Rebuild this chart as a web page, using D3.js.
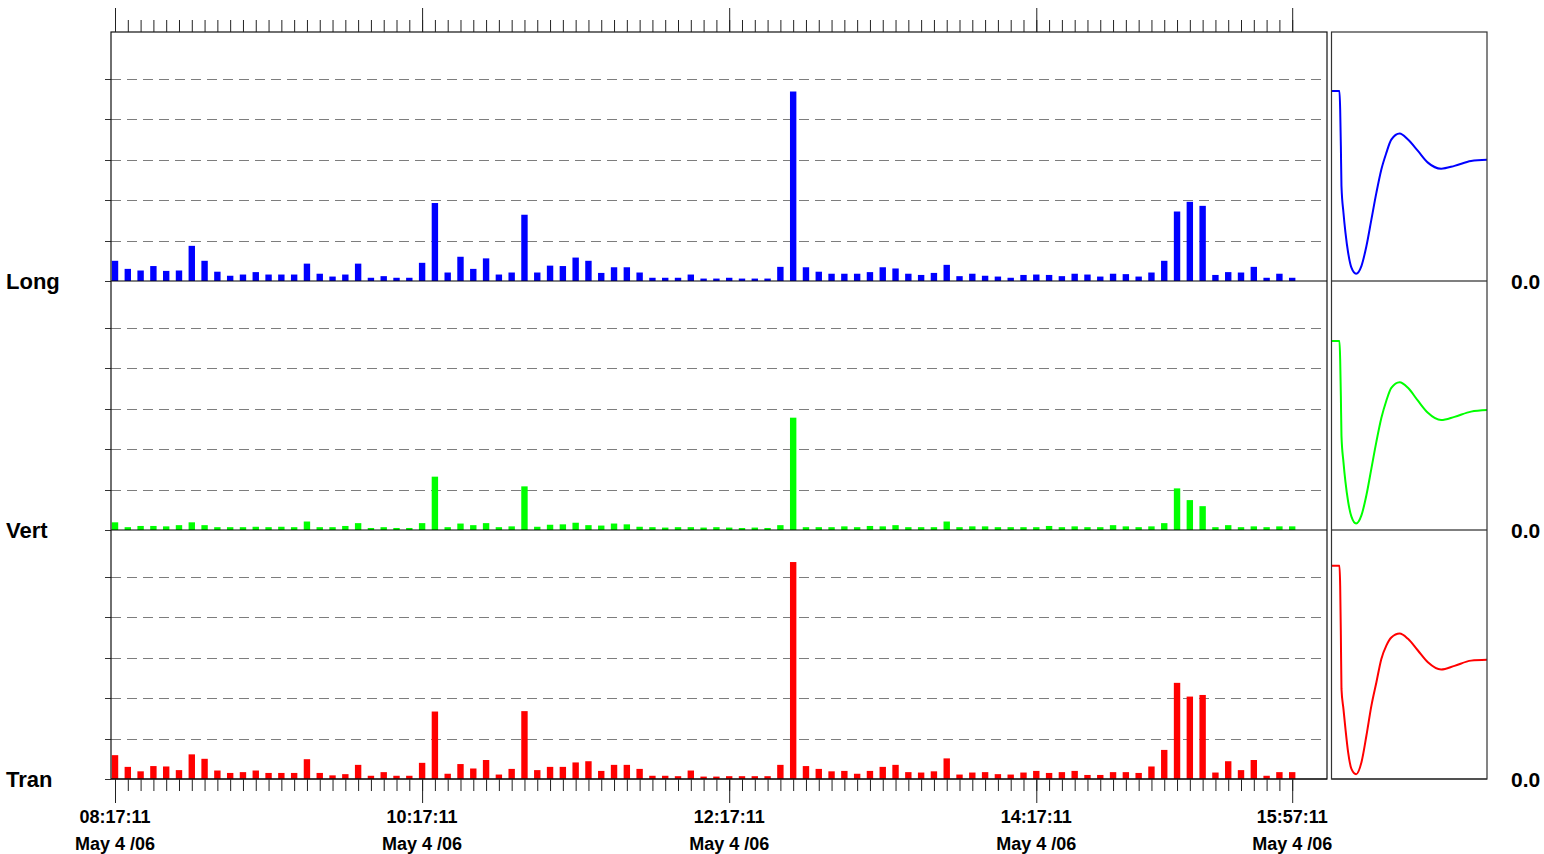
<!DOCTYPE html>
<html><head><meta charset="utf-8">
<script src="https://cdn.jsdelivr.net/npm/d3@7"></script>
<style>body{margin:0;background:#fff}</style>
</head><body><svg id="c" width="1544" height="854"></svg>
<script>
// ---------- data ----------
const dayDate = "2006-05-04";
const startTime = "08:17:11";
const stepMinutes = 5;
const majorTickLabels = ["08:17:11","10:17:11","12:17:11","14:17:11","15:57:11"];
const dateLabel = "May 4 /06";
const seriesNames = ["Long","Vert","Tran"];
const seriesColors = ["#0000ff","#00ff00","#ff0000"];
const valueLabel = "0.0";
const gridValues = [1,2,3,4,5];

const longVals = [0.50,0.30,0.26,0.37,0.25,0.26,0.87,0.50,0.23,0.13,
  0.16,0.22,0.16,0.16,0.16,0.43,0.18,0.11,0.16,0.43,
  0.08,0.12,0.08,0.08,0.45,1.93,0.21,0.60,0.30,0.56,
  0.16,0.21,1.64,0.21,0.38,0.37,0.58,0.50,0.20,0.34,
  0.34,0.21,0.08,0.08,0.08,0.16,0.06,0.06,0.08,0.06,
  0.06,0.06,0.35,4.69,0.34,0.23,0.18,0.18,0.18,0.22,
  0.34,0.31,0.18,0.15,0.20,0.40,0.12,0.18,0.13,0.11,
  0.08,0.15,0.16,0.15,0.12,0.18,0.16,0.11,0.18,0.17,
  0.11,0.21,0.50,1.72,1.96,1.86,0.15,0.22,0.21,0.35,
  0.08,0.18,0.08];
const vertVals = [0.19,0.07,0.10,0.10,0.09,0.12,0.19,0.12,0.07,0.07,
  0.07,0.08,0.07,0.08,0.07,0.21,0.07,0.07,0.10,0.17,
  0.05,0.07,0.05,0.05,0.17,1.32,0.07,0.16,0.12,0.17,
  0.07,0.09,1.08,0.08,0.13,0.14,0.18,0.12,0.11,0.16,
  0.14,0.08,0.07,0.06,0.07,0.07,0.06,0.07,0.06,0.05,
  0.06,0.05,0.12,2.78,0.07,0.07,0.07,0.09,0.07,0.10,
  0.09,0.12,0.07,0.07,0.07,0.21,0.07,0.09,0.09,0.07,
  0.07,0.07,0.07,0.10,0.07,0.09,0.07,0.07,0.12,0.09,
  0.07,0.09,0.17,1.03,0.74,0.59,0.07,0.12,0.07,0.09,
  0.07,0.09,0.09];
const tranVals = [0.59,0.30,0.19,0.32,0.31,0.22,0.61,0.50,0.21,0.15,
  0.17,0.21,0.15,0.15,0.15,0.49,0.15,0.09,0.12,0.35,
  0.08,0.17,0.08,0.08,0.40,1.67,0.13,0.37,0.26,0.47,
  0.11,0.25,1.68,0.22,0.30,0.30,0.41,0.44,0.20,0.35,
  0.35,0.25,0.08,0.08,0.07,0.21,0.06,0.06,0.07,0.07,
  0.07,0.07,0.35,5.37,0.32,0.25,0.19,0.20,0.13,0.20,
  0.30,0.35,0.17,0.16,0.19,0.51,0.11,0.16,0.17,0.12,
  0.11,0.16,0.20,0.15,0.17,0.20,0.10,0.10,0.17,0.17,
  0.15,0.31,0.72,2.38,2.04,2.08,0.16,0.44,0.22,0.47,
  0.08,0.17,0.17];

// waveform panels (sample position, value)
const impulseX = [0,8,8.7,9.4,10,12,14,16.7,20,24.7,30,35,40,45,50,55,60,68.4,76.7,86.7,96.7,110,123.4,140,156];
const longWave = [4.70,4.70,4.25,3.34,2.35,1.69,1.20,0.70,0.33,0.18,0.37,0.86,1.52,2.18,2.76,3.17,3.50,3.65,3.50,3.22,2.93,2.78,2.85,2.97,3.00];
const vertWave = [4.68,4.68,4.22,3.32,2.33,1.68,1.19,0.70,0.33,0.16,0.36,0.86,1.52,2.18,2.77,3.20,3.52,3.66,3.52,3.20,2.90,2.72,2.80,2.93,2.97];
const tranWave = [5.28,5.28,4.79,3.55,2.23,1.73,1.24,0.66,0.25,0.12,0.41,1.07,1.81,2.39,2.97,3.30,3.50,3.60,3.47,3.18,2.89,2.71,2.80,2.93,2.95];

// ---------- layout ----------
const plotL = 111, plotR = 1327, plotT = 32;
const panelH = 249;
const baselines = [281, 530, 779];
const waveL = 1331.5, waveR = 1487;

const svg = d3.select("#c");
const parse = d3.timeParse("%Y-%m-%d %H:%M:%S");
const t0 = parse(dayDate + " " + startTime);
const times = longVals.map((d,i) => d3.timeMinute.offset(t0, i*stepMinutes));
const majorTimes = majorTickLabels.map(s => parse(dayDate + " " + s));

const x = d3.scaleTime()
  .domain([d3.timeSecond.offset(t0, -94), d3.timeSecond.offset(t0, 28416)])
  .range([plotL, plotR]);
const xw = d3.scaleLinear().domain([0,156]).range([waveL, waveR]);

const allVals = [longVals, vertVals, tranVals];
const allWaves = [longWave, vertWave, tranWave];
const font = "'Liberation Sans', Arial, Helvetica, sans-serif";

allVals.forEach((vals, p) => {
  const base = baselines[p];
  const y = d3.scaleLinear().domain([0, 6.163]).range([base, base - panelH]);
  const g = svg.append("g");
  // grid
  g.selectAll("line.grid").data(gridValues).join("line")
    .attr("x1", plotL).attr("x2", plotR)
    .attr("y1", d => Math.round(y(d)) + 0.5).attr("y2", d => Math.round(y(d)) + 0.5)
    .attr("stroke", "#7d7d7d").attr("stroke-width", 1)
    .attr("stroke-dasharray", "10,6");
  // left ticks
  g.selectAll("line.lt").data(gridValues.concat([0])).join("line")
    .attr("x1", plotL - 6).attr("x2", plotL)
    .attr("y1", d => Math.round(y(d)) + 0.5).attr("y2", d => Math.round(y(d)) + 0.5)
    .attr("stroke", "#333").attr("stroke-width", 1);
  // bars
  g.selectAll("rect").data(vals).join("rect")
    .attr("x", (d,i) => x(times[i]) - 3.2)
    .attr("width", 6.4)
    .attr("y", d => y(d))
    .attr("height", d => y(0) - y(d))
    .attr("fill", seriesColors[p]);
  // baseline
  g.append("line").attr("x1", plotL).attr("x2", plotR)
    .attr("y1", base).attr("y2", base).attr("stroke", "#000").attr("stroke-width", 1.2);
  // wave panel
  g.append("line").attr("x1", waveL).attr("x2", waveR)
    .attr("y1", base).attr("y2", base).attr("stroke", "#000").attr("stroke-width", 1.2);
  const line = d3.line().x((d,i) => xw(impulseX[i])).y(d => y(d)).curve(d3.curveMonotoneX);
  g.append("path").attr("d", line(allWaves[p]))
    .attr("fill", "none").attr("stroke", seriesColors[p]).attr("stroke-width", 2);
  // labels
  g.append("text").attr("x", 6).attr("y", base + 8)
    .attr("font-family", font).attr("font-weight", "bold").attr("font-size", 22)
    .text(seriesNames[p]);
  g.append("text").attr("x", 1511).attr("y", base + 8)
    .attr("font-family", font).attr("font-weight", "bold").attr("font-size", 21)
    .text(valueLabel);
});

// frames
svg.append("rect").attr("x", plotL).attr("y", plotT).attr("width", plotR - plotL)
  .attr("height", baselines[2] - plotT).attr("fill", "none").attr("stroke", "#111").attr("stroke-width", 1.2);
svg.append("rect").attr("x", waveL).attr("y", plotT).attr("width", waveR - waveL)
  .attr("height", baselines[2] - plotT).attr("fill", "none").attr("stroke", "#333").attr("stroke-width", 1.2);

// top axis
const topMinor = svg.append("g").attr("transform", `translate(0,${plotT})`)
  .call(d3.axisTop(x).tickValues(times).tickSize(12).tickFormat(""));
const topMajor = svg.append("g").attr("transform", `translate(0,${plotT})`)
  .call(d3.axisTop(x).tickValues(majorTimes).tickSize(24).tickFormat(""));
// bottom axis
const botMinor = svg.append("g").attr("transform", `translate(0,${baselines[2]})`)
  .call(d3.axisBottom(x).tickValues(times).tickSize(12).tickFormat(""));
const botMajor = svg.append("g").attr("transform", `translate(0,${baselines[2]})`)
  .call(d3.axisBottom(x).tickValues(majorTimes).tickSize(24).tickFormat(""));
[topMinor, topMajor, botMinor, botMajor].forEach(a => {
  a.select(".domain").remove();
  a.selectAll(".tick line").attr("stroke", "#222").attr("stroke-width", 1);
});

// bottom labels
const lab = svg.append("g").attr("font-family", font).attr("font-weight", "bold")
  .attr("font-size", 18).attr("text-anchor", "middle").attr("fill", "#000");
lab.selectAll("text.t").data(majorTimes).join("text")
  .attr("x", d => x(d)).attr("y", 822.5)
  .text((d,i) => majorTickLabels[i]);
lab.selectAll("text.d").data(majorTimes).join("text")
  .attr("x", d => x(d)).attr("y", 849.5)
  .text(dateLabel);
</script></body></html>
